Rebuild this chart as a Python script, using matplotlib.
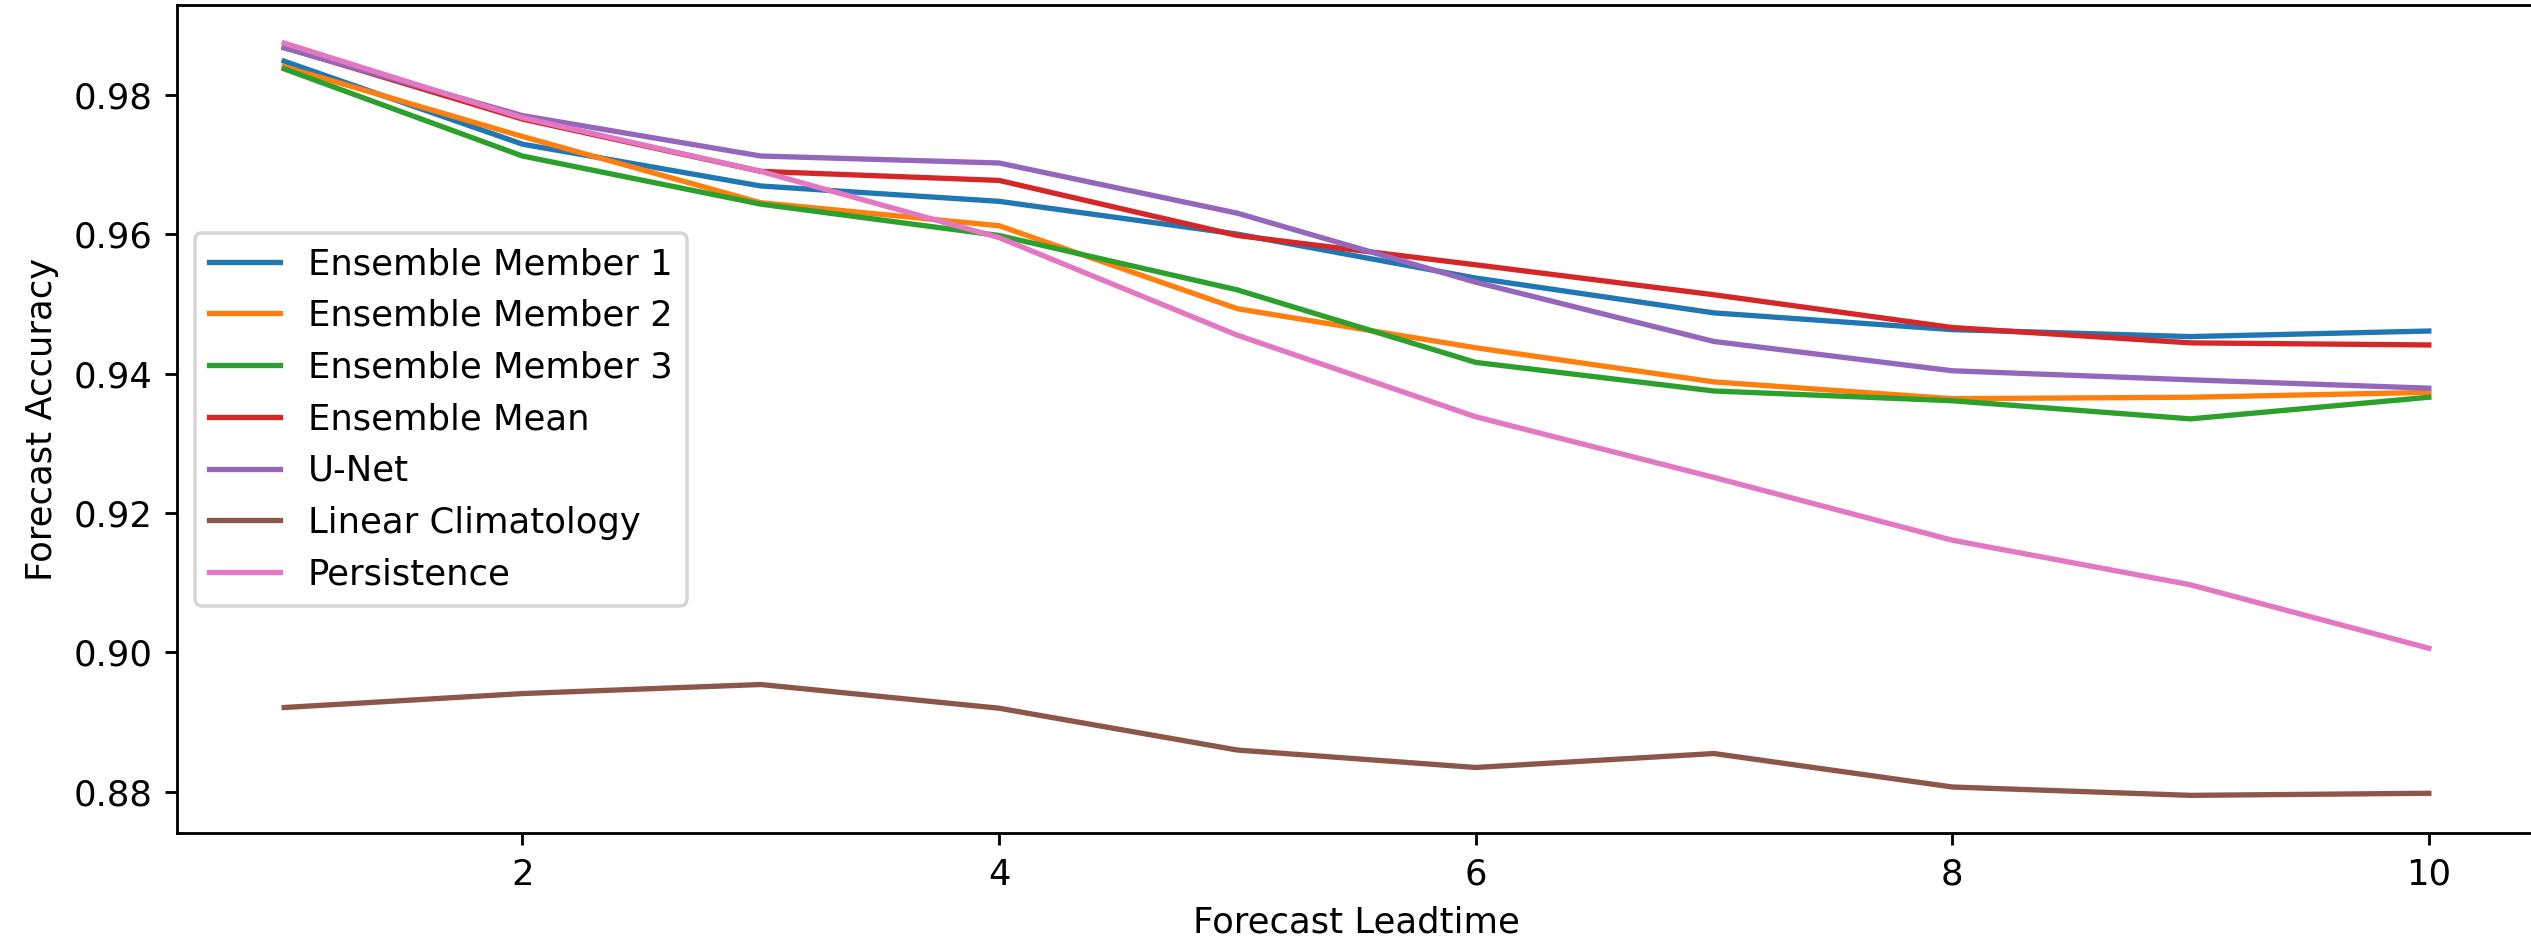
import numpy as np
import matplotlib.pyplot as plt

# ====================
# data
# ====================
leadtime = [1, 2, 3, 4, 5, 6, 7, 8, 9, 10]

member_1 = [0.9848, 0.9729, 0.9669, 0.9647, 0.9600, 0.9537, 0.9487, 0.9463, 0.9453, 0.9461]
member_2 = [0.9840, 0.9740, 0.9645, 0.9612, 0.9493, 0.9437, 0.9388, 0.9364, 0.9366, 0.9373]
member_3 = [0.9837, 0.9712, 0.9643, 0.9598, 0.9520, 0.9416, 0.9375, 0.9361, 0.9335, 0.9366]
ens_mean = [0.9868, 0.9765, 0.9690, 0.9677, 0.9598, 0.9556, 0.9513, 0.9466, 0.9444, 0.9441]
unet = [0.9867, 0.9770, 0.9712, 0.9702, 0.9630, 0.9531, 0.9446, 0.9404, 0.9391, 0.9379]
lin_clim = [0.8921, 0.8941, 0.8954, 0.8920, 0.8860, 0.8835, 0.8855, 0.8807, 0.8795, 0.8798]
persistence = [0.9874, 0.9767, 0.9690, 0.9595, 0.9455, 0.9338, 0.9251, 0.9161, 0.9097, 0.9006]

labels = [
    "Ensemble Member 1",
    "Ensemble Member 2",
    "Ensemble Member 3",
    "Ensemble Mean",
    "U-Net",
    "Linear Climatology",
    "Persistence",
]
series = [member_1, member_2, member_3, ens_mean, unet, lin_clim, persistence]

# ====================
# plot
# ====================
dpi = 255
fig = plt.figure(figsize=(2531 / dpi, 941 / dpi), dpi=dpi)
ax = fig.add_axes([0.0699, 0.1148, 0.9321, 0.8794])

for vals, lab in zip(series, labels):
    ax.plot(leadtime, vals, label=lab)

ax.set_xlabel("Forecast Leadtime")
ax.set_ylabel("Forecast Accuracy")
ax.legend(loc="center left")

fig.savefig("out.png", dpi=dpi)
